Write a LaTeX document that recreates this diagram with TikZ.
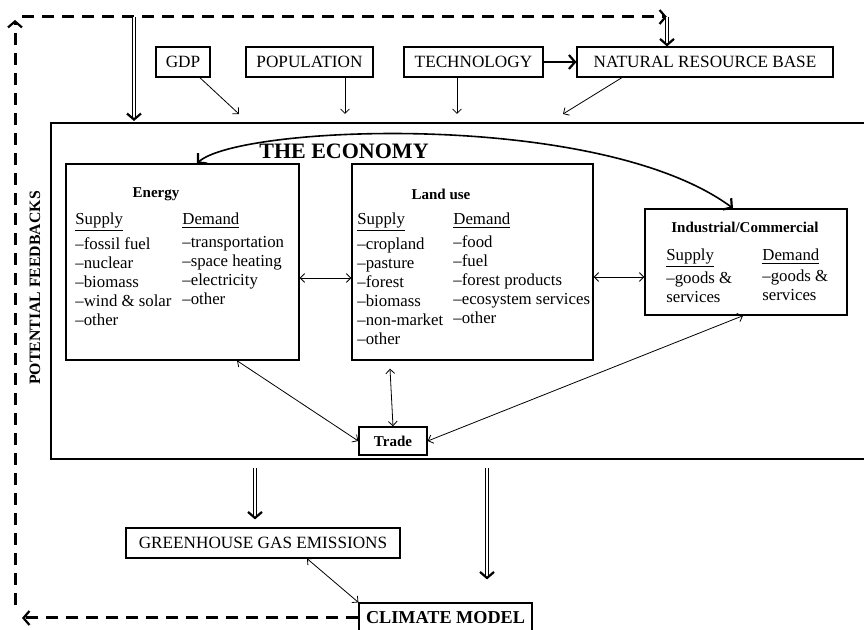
\documentclass[tikz,border=0pt]{standalone}
\usepackage{fontspec}
\setmainfont{Liberation Serif}
\usepackage{tikz}
\usetikzlibrary{arrows.meta,positioning}
\tikzset{box/.style={draw,line width=0.6pt,inner sep=0pt,font=\fontsize{8.6}{9.5}\selectfont},
  sector/.style={draw,line width=0.7pt,inner sep=0pt},
  head/.style={font=\fontsize{7.5}{9}\selectfont\bfseries,inner sep=0pt},
  col/.style={anchor=north west,align=left,inner sep=0pt,font=\fontsize{8.4}{9.5}\selectfont},
  Big/.tip={Straight Barb[length=3pt,width=7pt,line width=1.1pt]},
  lnk/.style={line width=0.4pt},
  dbl/.style={double,double distance=0.9pt,line width=0.45pt,-Big},
  fb/.style={line width=1.5pt,dash pattern=on 6pt off 4pt,-Big}}

\begin{document}
\begin{tikzpicture}[x=0.5pt,y=-0.5pt,>={Straight Barb[length=2.2pt,width=4.4pt]}]
    \useasboundingbox (0,0) rectangle (864,630);

    % drivers
    \node[box,minimum width=27pt,minimum height=15pt] (gdp) at (183,62) {GDP};
    \node[box,minimum width=63.5pt,minimum height=15pt] (pop) at (309.5,62) {POPULATION};
    \node[box,minimum width=69.5pt,minimum height=15pt] (tech) at (473.5,62) {TECHNOLOGY};
    \node[box,minimum width=128pt,minimum height=15pt] (nrb) at (705,62) {NATURAL RESOURCE BASE};

    % the economy
    \draw[line width=1.2pt] (866,123) -| (51,459) -- (866,459);
    \node[font=\fontsize{11}{12}\selectfont\bfseries,inner sep=0pt] (econ) at (344,151) {THE ECONOMY};
    \node[head,font=\fontsize{7.9}{9}\selectfont\bfseries,rotate=90] (feed) at (35,288) {POTENTIAL FEEDBACKS};

    \node[sector,minimum width=116.5pt,minimum height=98pt] (energy) at (182.5,262) {};
    \node[sector,minimum width=120.5pt,minimum height=98pt] (land) at (472.5,262) {};
    \node[sector,minimum width=101pt,minimum height=53pt] (ind) at (746,262) {};
    \node[sector,minimum width=34pt,minimum height=14pt,head] (trade) at (393,441) {Trade};

    \node[head] (energyT) at (156,194) {Energy};
    \node[col] (energyS) at (75,212) {\underline{Supply}\\[2pt] --fossil fuel\\ --nuclear\\ --biomass\\ --wind \& solar\\ --other};
    \node[col] (energyD) at (182,212) {\underline{Demand}\\[2pt] --transportation\\ --space heating\\ --electricity\\ --other};

    \node[head] (landT) at (441,194) {Land use};
    \node[col] (landS) at (357,212) {\underline{Supply}\\[2pt] --cropland\\ --pasture\\ --forest\\ --biomass\\ --non-market\\ --other};
    \node[col] (landD) at (453,212) {\underline{Demand}\\[2pt] --food\\ --fuel\\ --forest products\\ --ecosystem services\\ --other};

    \node[head] (indT) at (745,227) {Industrial/Commercial};
    \node[col] (indS) at (666,248) {\underline{Supply}\\[1pt] --goods \&\\ services};
    \node[col] (indD) at (762,248) {\underline{Demand}\\[1pt] --goods \&\\ services};

    % outputs
    \node[box,minimum width=137pt,minimum height=15pt] (ghg) at (263,543) {GREENHOUSE GAS EMISSIONS};
    \node[box,minimum width=86.5pt,minimum height=15pt,font=\fontsize{9.1}{10}\selectfont\bfseries] (climate) at (445.5,618) {CLIMATE MODEL};

    \coordinate (eGdp) at (239,114);
    \coordinate (ePop) at (345,114);
    \coordinate (eTech) at (457,114);
    \coordinate (eNrb) at (563,114);
    \coordinate (top1) at (22,17);
    \coordinate (top2) at (667,17);
    \coordinate (drop) at (134,17);
    \coordinate (left1) at (15,605);
    \coordinate (left2) at (15,20);
    \coordinate (bot) at (22,618);

    \draw[lnk,->] (gdp) -- (eGdp);
    \draw[lnk,->] (pop.south -| ePop) -- (ePop);
    \draw[lnk,->] (tech.south -| eTech) -- (eTech);
    \draw[lnk,->] ([xshift=-41.5pt]nrb.south) -- (eNrb);
    \draw[line width=0.8pt,-Big] (tech) -- (nrb);

    \draw[line width=0.8pt,Big-Big] ([xshift=7.25pt]energy.north) .. controls (240,125) and (600,110) .. ([xshift=-6.5pt]ind.north);
    \draw[lnk,<->] ([yshift=-8pt]energy.east) -- ([yshift=-8pt]land.west);
    \draw[lnk,<->] ([yshift=-7.5pt]land.east) -- ([yshift=-7.5pt]ind.west);
    \draw[lnk,<->] ([xshift=27.25pt]energy.south) -- (trade.west);
    \draw[lnk,<->] ([xshift=-41.25pt,yshift=-4pt]land.south) -- (trade.north);
    \draw[lnk,<->] ([xshift=-1.5pt]ind.south) -- (trade.east);

    \draw[dbl] (255,468) -- ([xshift=-4pt,yshift=4pt]ghg.north);
    \draw[dbl] (487,468) -- ([xshift=20.75pt,yshift=11.5pt]climate.north);
    \draw[lnk,<->] ([xshift=22pt]ghg.south) -- (climate.north west);

    % feedback loop
    \draw[fb] (climate.west) -- (bot);
    \draw[fb] (left1) -- (left2);
    \draw[fb] (top1) -- (top2);
    \draw[dbl] (top2) -- (nrb.north -| top2);
    \draw[dbl] (drop) -- (134,121);
\end{tikzpicture}
\end{document}
